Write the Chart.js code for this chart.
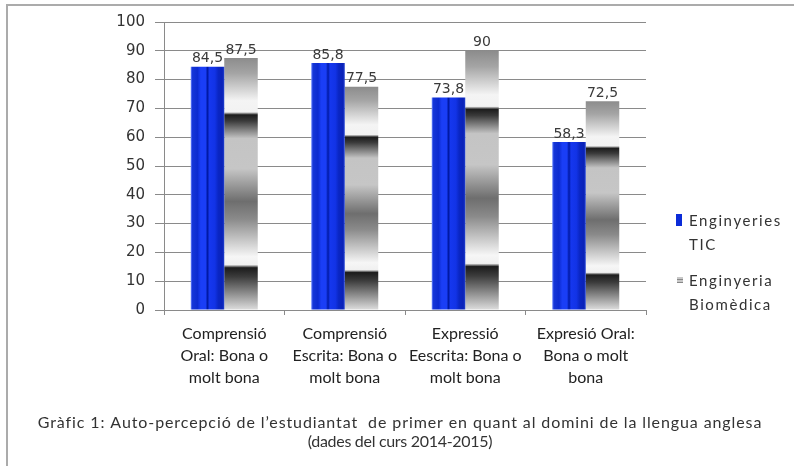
<!DOCTYPE html>
<html>
<head>
<meta charset="utf-8">
<script src="https://cdn.jsdelivr.net/npm/chart.js@4.4.1/dist/chart.umd.min.js"></script>
<style>
  html, body { margin: 0; padding: 0; background: #fff; }
  #wrap { position: relative; width: 794px; height: 466px; overflow: hidden; }
  #frame {
    position: absolute; left: 6px; top: 4px; right: -10px; bottom: -10px;
    border-top: 2px solid #ababab; border-left: 2px solid #ababab;
  }
  #chart { position: absolute; left: 0; top: 0; }
</style>
</head>
<body>
<div id="wrap">
  <div id="frame"></div>
  <canvas id="chart" width="794" height="466"></canvas>
</div>
<script>
  // Categories (multi-line axis labels)
  const categories = [
    ['Comprensió', 'Oral: Bona o', 'molt bona'],
    ['Comprensió', 'Escrita: Bona o', 'molt bona'],
    ['Expressió', 'Eescrita: Bona o', 'molt bona'],
    ['Expresió Oral:', 'Bona o molt', 'bona']
  ];

  // Series values (%)
  const ticValues = [84.5, 85.8, 73.8, 58.3];
  const bioValues = [87.5, 77.5, 90, 72.5];

  const seriesNames = ['Enginyeries TIC', 'Enginyeria Biomèdica'];

  const yTicks = [0, 10, 20, 30, 40, 50, 60, 70, 80, 90, 100];

  const caption = [
    'Gràfic 1: Auto-percepció de l’estudiantat  de primer en quant al domini de la llengua anglesa',
    '(dades del curs 2014-2015)'
  ];

  /**
   * Blue bars: vertical stripes across the bar width
   */
  function blueFill(context) {
    const el = context.element;
    if (!el || !isFinite(el.x) || !el.width) return '#0b2bd8';
    const x0 = el.x - el.width / 2;
    const g = context.chart.ctx.createLinearGradient(x0, 0, x0 + el.width, 0);
    g.addColorStop(0.00, '#6f8cff');
    g.addColorStop(0.05, '#1536d8');
    g.addColorStop(0.20, '#0c2bd0');
    g.addColorStop(0.30, '#1a3ef6');
    g.addColorStop(0.44, '#1a3ef6');
    g.addColorStop(0.50, '#0019a6');
    g.addColorStop(0.56, '#1537ee');
    g.addColorStop(0.72, '#1233e6');
    g.addColorStop(0.82, '#0a26c4');
    g.addColorStop(0.94, '#0a22b8');
    g.addColorStop(1.00, '#203fd0');
    return g;
  }

  /**
   * Grey bars: banded metallic gradient from top to base
   */
  function greyFill(context) {
    const el = context.element;
    if (!el || !isFinite(el.y) || !isFinite(el.base)) return '#bbbbbb';
    const g = context.chart.ctx.createLinearGradient(0, el.y, 0, el.base);
    g.addColorStop(0.00, '#8c8c8c');
    g.addColorStop(0.06, '#a4a4a4');
    g.addColorStop(0.17, '#f4f4f4');
    g.addColorStop(0.215, '#f2f2f2');
    g.addColorStop(0.226, '#1c1c1c');
    g.addColorStop(0.25, '#3a3a3a');
    g.addColorStop(0.32, '#c4c4c4');
    g.addColorStop(0.44, '#c6c6c6');
    g.addColorStop(0.57, '#6e6e6e');
    g.addColorStop(0.64, '#8a8a8a');
    g.addColorStop(0.79, '#f6f6f6');
    g.addColorStop(0.822, '#f0f0f0');
    g.addColorStop(0.834, '#1c1c1c');
    g.addColorStop(0.87, '#3c3c3c');
    g.addColorStop(1.00, '#dcdcdc');
    return g;
  }

  // Value labels above bars
  const valueLabels = {
    id: 'valueLabels',
    afterDatasetsDraw(chart) {
      const ctx = chart.ctx;
      ctx.save();
      ctx.font = '14px "DejaVu Sans"';
      ctx.fillStyle = '#3a3a3a';
      ctx.textAlign = 'center';
      ctx.textBaseline = 'bottom';
      chart.data.datasets.forEach((ds, di) => {
        chart.getDatasetMeta(di).data.forEach((bar, i) => {
          const txt = String(ds.data[i]).replace('.', ',');
          ctx.fillText(txt, bar.x, bar.y - 1);
        });
      });
      ctx.restore();
    }
  };

  // Legend on the right, two lines per entry
  const sideLegend = {
    id: 'sideLegend',
    afterDraw(chart) {
      const ctx = chart.ctx;
      const left = chart.chartArea.right + 30;
      const tops = [220, 280];
      ctx.save();
      ctx.font = '15px Lato';
      ctx.letterSpacing = '1.6px';
      ctx.textBaseline = 'middle';
      chart.data.datasets.forEach((ds, di) => {
        const y = tops[di];
        if (di === 0) {
          ctx.fillStyle = '#0b2bd8';
          ctx.fillRect(left, y - 6, 6, 12);
        } else {
          ctx.fillStyle = '#c8c8c8';
          ctx.fillRect(left + 1, y - 3, 6, 6);
          ctx.fillStyle = '#888';
          ctx.fillRect(left + 1, y - 1, 6, 1);
          ctx.fillRect(left + 1, y + 2, 6, 1);
        }
        ctx.fillStyle = '#333';
        const words = ds.label.split(' ');
        words.forEach((w, li) => {
          ctx.fillText(w, left + 13, y + 1 + li * 24);
        });
      });
      ctx.restore();
    }
  };

  // Caption below the chart
  const captionText = {
    id: 'captionText',
    afterDraw(chart) {
      const ctx = chart.ctx;
      ctx.save();
      ctx.fillStyle = '#333';
      ctx.textAlign = 'center';
      ctx.textBaseline = 'middle';
      ctx.font = '16px Lato';
      ctx.letterSpacing = '0.9px';
      ctx.fillText(caption[0], 400, 423);
      ctx.letterSpacing = '-0.3px';
      ctx.fillText(caption[1], 400, 442);
      ctx.restore();
    }
  };

  const chart = new Chart(document.getElementById('chart'), {
    type: 'bar',
    data: {
      labels: categories,
      datasets: [
        {
          label: seriesNames[0],
          data: ticValues,
          backgroundColor: blueFill,
          borderWidth: 0,
          barPercentage: 1,
          categoryPercentage: 0.556
        },
        {
          label: seriesNames[1],
          data: bioValues,
          backgroundColor: greyFill,
          borderWidth: 0,
          barPercentage: 1,
          categoryPercentage: 0.556
        }
      ]
    },
    options: {
      responsive: false,
      animation: false,
      events: [],
      layout: {
        padding: { left: 0, right: 148, top: 22, bottom: 0 }
      },
      plugins: {
        legend: { display: false },
        tooltip: { enabled: false },
        title: { display: false }
      },
      scales: {
        x: {
          afterFit(scale) { scale.height = 156; },
          border: { display: true, color: '#8a8a8a', width: 1 },
          grid: {
            offset: true,
            drawOnChartArea: false,
            drawTicks: true,
            tickLength: 5,
            color: '#8a8a8a'
          },
          ticks: {
            color: '#222',
            font: { family: 'Lato', size: 16, lineHeight: 1.38 },
            padding: 8,
            maxRotation: 0,
            autoSkip: false
          }
        },
        y: {
          min: 0,
          max: 100,
          afterFit(scale) { scale.width = 164; },
          afterBuildTicks(scale) {
            scale.ticks = yTicks.map(v => ({ value: v }));
          },
          border: { display: true, color: '#8a8a8a', width: 1 },
          grid: {
            color: '#8a8a8a',
            lineWidth: 1,
            drawTicks: true,
            tickLength: 9
          },
          ticks: {
            color: '#333',
            font: { family: 'DejaVu Sans', size: 15 },
            padding: 10
          }
        }
      }
    },
    plugins: [valueLabels, sideLegend, captionText]
  });

  // second pass so the gradients can use the laid-out bar geometry
  chart.update();
</script>
</body>
</html>
